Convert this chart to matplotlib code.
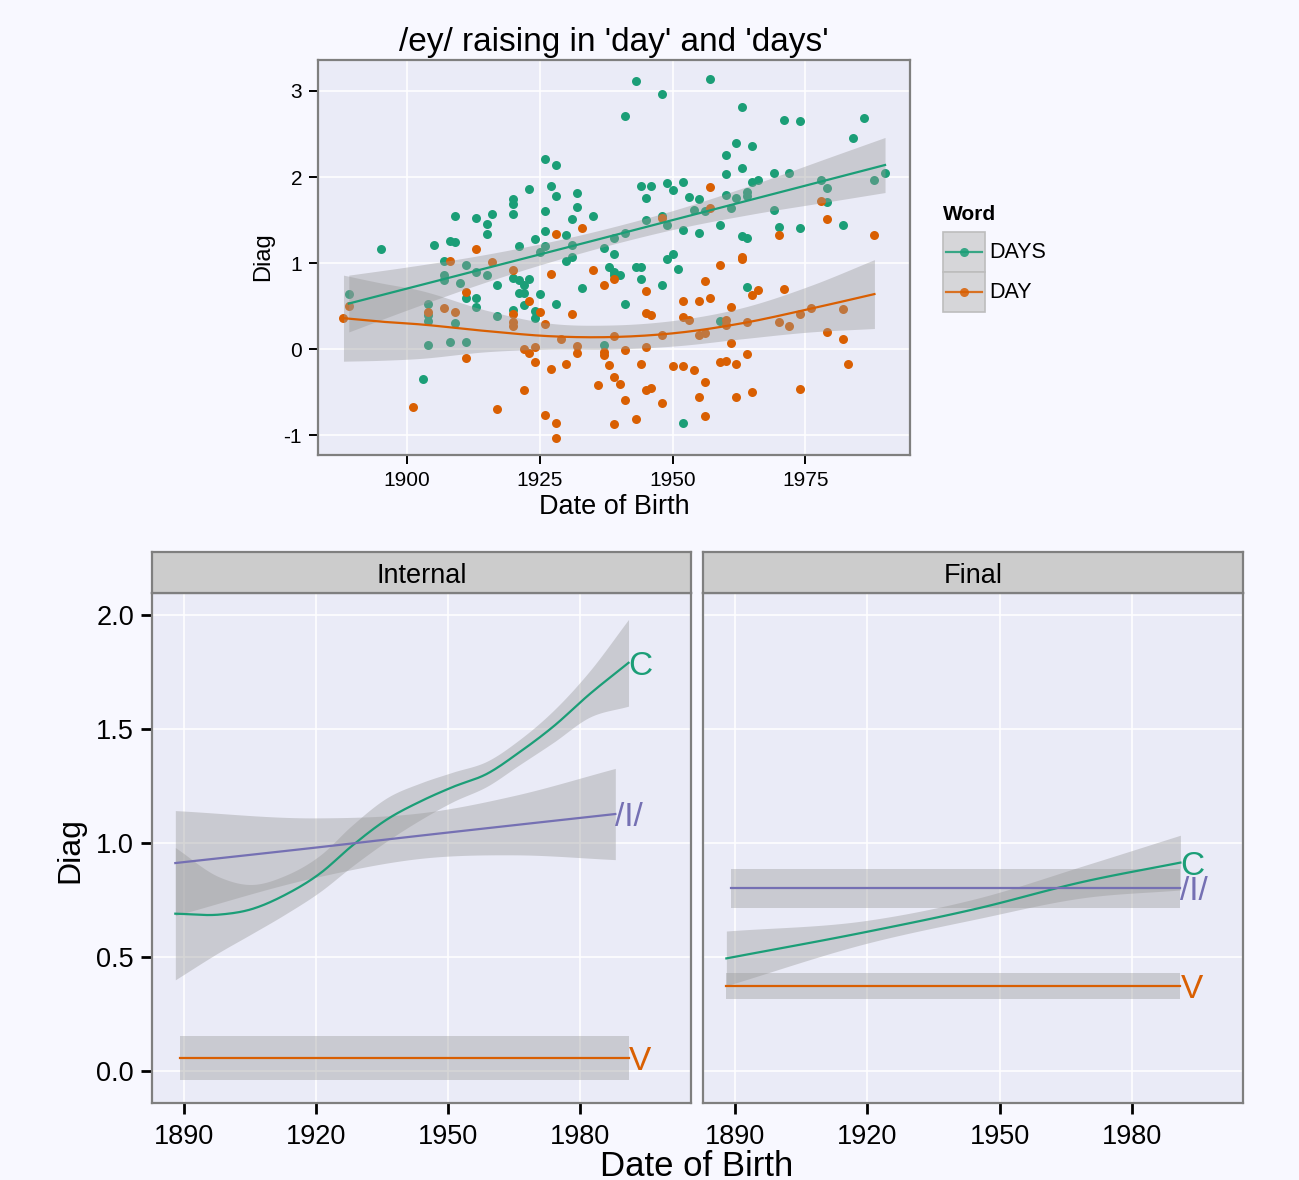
import numpy as np
import matplotlib
matplotlib.use("Agg")
import matplotlib.pyplot as plt
from matplotlib.patches import Rectangle
from matplotlib.lines import Line2D
from matplotlib.ticker import FormatStrFormatter

plt.rcParams["font.family"] = ["Liberation Sans", "DejaVu Sans"]
plt.rcParams["axes.unicode_minus"] = False

GREEN = "#1B9E77"
ORANGE = "#D95F02"
PURPLE = "#7570B3"
PANEL = "#EAEBF7"
FIG_BG = "#F8F8FF"
SPINE = "#7F7F7F"
RIBBON = "#999999"

# ---- top panel: raw points --------------------------------------------
days_year = [1895, 1926, 1928, 1923, 1927, 1928, 1932, 1932, 1920, 1920, 1920, 1926,
             1909, 1913, 1916, 1915, 1915, 1905, 1908, 1909, 1931, 1935, 1930, 1924,
             1926, 1921, 1926, 1925, 1931, 1937, 1939, 1939, 1931,
             1943, 1957, 1948, 1941, 1963, 1971, 1974, 1986, 1984, 1962, 1965, 1960,
             1960, 1963, 1969, 1972, 1990, 1988, 1965, 1966, 1944, 1946, 1949, 1950,
             1952, 1945, 1953, 1955, 1954, 1956, 1960, 1962, 1961, 1964, 1964, 1978,
             1979, 1979, 1969, 1945, 1948, 1949, 1941, 1952, 1955, 1959, 1970, 1974,
             1982, 1963, 1964, 1949, 1950,
             1907, 1911, 1913, 1915, 1907, 1907, 1910, 1917, 1889, 1911, 1913, 1913,
             1904, 1904, 1904, 1917, 1909, 1904, 1908, 1911, 1903, 1920, 1921, 1922,
             1923, 1921, 1922, 1922, 1925, 1928, 1920, 1924, 1924, 1930, 1933, 1937,
             1938, 1939,
             1943, 1944, 1939, 1940, 1944, 1951, 1948, 1964, 1941, 1959, 1952]
days_diag = [1.16, 2.21, 2.14, 1.86, 1.90, 1.78, 1.82, 1.65, 1.74, 1.69, 1.57, 1.60,
             1.55, 1.52, 1.57, 1.45, 1.34, 1.21, 1.26, 1.24, 1.51, 1.55, 1.33, 1.28,
             1.37, 1.20, 1.20, 1.13, 1.21, 1.17, 1.10, 1.29, 1.07,
             3.12, 3.14, 2.96, 2.71, 2.81, 2.66, 2.65, 2.69, 2.45, 2.40, 2.36, 2.26,
             2.03, 2.10, 2.05, 2.05, 2.05, 1.97, 1.94, 1.96, 1.90, 1.90, 1.93, 1.85,
             1.94, 1.76, 1.77, 1.74, 1.62, 1.60, 1.79, 1.76, 1.64, 1.83, 1.78, 1.96,
             1.87, 1.71, 1.62, 1.50, 1.55, 1.44, 1.35, 1.39, 1.35, 1.44, 1.42, 1.41,
             1.44, 1.31, 1.29, 1.05, 1.10,
             1.02, 0.98, 0.90, 0.86, 0.86, 0.80, 0.77, 0.75, 0.64, 0.59, 0.59, 0.49,
             0.52, 0.40, 0.33, 0.38, 0.30, 0.05, 0.08, 0.08, -0.35, 0.83, 0.80, 0.74,
             0.82, 0.65, 0.65, 0.51, 0.64, 0.52, 0.45, 0.44, 0.36, 1.02, 0.71, 0.05,
             0.96, 0.90,
             0.95, 0.95, 0.86, 0.86, 0.81, 0.93, 0.74, 0.72, 0.53, 0.33, -0.86]

day_year = [1913, 1928, 1933, 1957, 1957, 1948, 1978, 1979, 1970, 1988, 1963,
            1908, 1916, 1920, 1927, 1935, 1937, 1939, 1911, 1923, 1889, 1907, 1909,
            1904, 1888, 1920, 1920, 1920, 1925, 1926, 1931, 1929, 1932, 1932, 1922,
            1923, 1924, 1924, 1927, 1930, 1937, 1937, 1938, 1939, 1936, 1911, 1901,
            1917, 1922, 1926, 1928, 1928, 1939,
            1959, 1963, 1956, 1945, 1952, 1955, 1957, 1965, 1966, 1971, 1961, 1945,
            1946, 1952, 1953, 1960, 1960, 1964, 1970, 1972, 1974, 1976, 1982, 1979,
            1982, 1983, 1974, 1939, 1948, 1955, 1956, 1941, 1945, 1961, 1964, 1944,
            1950, 1952, 1954, 1959, 1960, 1962, 1940, 1945, 1946, 1956, 1965, 1941,
            1948, 1955, 1962, 1943, 1956]
day_diag = [1.16, 1.34, 1.41, 1.89, 1.64, 1.52, 1.72, 1.51, 1.33, 1.33, 1.07,
            1.02, 1.01, 0.92, 0.87, 0.92, 0.75, 0.82, 0.66, 0.56, 0.50, 0.48, 0.43,
            0.43, 0.36, 0.41, 0.32, 0.27, 0.43, 0.29, 0.41, 0.12, 0.04, -0.04, 0.00,
            -0.04, 0.02, -0.15, -0.23, -0.17, -0.03, -0.07, -0.18, -0.32, -0.42, -0.10, -0.67,
            -0.70, -0.48, -0.76, -0.86, -1.03, -0.87,
            0.98, 1.05, 0.79, 0.67, 0.56, 0.56, 0.60, 0.63, 0.69, 0.70, 0.49, 0.42,
            0.40, 0.37, 0.34, 0.34, 0.28, 0.31, 0.31, 0.27, 0.41, 0.48, 0.47, 0.20,
            0.12, -0.17, -0.46, 0.15, 0.16, 0.16, 0.19, -0.01, 0.02, 0.07, -0.06, -0.17,
            -0.19, -0.19, -0.24, -0.15, -0.14, -0.17, -0.40, -0.47, -0.45, -0.38, -0.50, -0.59,
            -0.63, -0.56, -0.56, -0.81, -0.78]

# ---- top panel: smooths (fit and half width of ribbon) ----------------
days_fit_year = [1889, 1900, 1915, 1930, 1940, 1950, 1965, 1980, 1990]
days_fit = [0.53, 0.705, 0.943, 1.18, 1.34, 1.50, 1.74, 1.98, 2.14]
days_se = [0.33, 0.25, 0.16, 0.11, 0.10, 0.11, 0.17, 0.26, 0.32]

day_fit_year = [1888, 1895, 1902, 1915, 1927, 1938, 1951, 1963, 1976, 1988]
day_fit = [0.36, 0.32, 0.29, 0.21, 0.15, 0.14, 0.19, 0.30, 0.47, 0.64]
day_se = [0.50, 0.45, 0.40, 0.24, 0.15, 0.14, 0.15, 0.18, 0.27, 0.40]

# ---- bottom panels -----------------------------------------------------
int_c_year = [1888, 1898, 1905, 1913, 1921, 1928, 1936, 1944, 1951, 1959, 1966, 1974, 1982, 1991]
int_c_fit = [0.69, 0.686, 0.708, 0.773, 0.868, 0.985, 1.102, 1.185, 1.245, 1.305, 1.395, 1.512, 1.65, 1.79]
int_c_se = [0.29, 0.165, 0.11, 0.085, 0.08, 0.09, 0.095, 0.08, 0.065, 0.055, 0.055, 0.07, 0.10, 0.19]

int_i_year = [1888, 1920, 1945, 1965, 1988]
int_i_fit = [0.912, 0.98, 1.035, 1.078, 1.127]
int_i_se = [0.23, 0.13, 0.10, 0.13, 0.20]

int_v_year = [1889, 1991]
int_v_fit = [0.057, 0.057]
int_v_se = [0.095, 0.095]

fin_c_year = [1888, 1920, 1945, 1969, 1991]
fin_c_fit = [0.494, 0.611, 0.713, 0.83, 0.914]
fin_c_se = [0.12, 0.05, 0.045, 0.07, 0.12]

fin_i_year = [1889, 1991]
fin_i_fit = [0.801, 0.801]
fin_i_se = [0.085, 0.085]

fin_v_year = [1888, 1991]
fin_v_fit = [0.373, 0.373]
fin_v_se = [0.058, 0.058]

W, H = 1299, 1180


def px_axes(x0, y0, x1, y1):
    return [x0 / W, 1 - y1 / H, (x1 - x0) / W, (y1 - y0) / H]


def hermite(x, y, n=25):
    # smooth path through the read-off points (drawing only)
    x = np.asarray(x, float)
    y = np.asarray(y, float)
    if len(x) < 3:
        return x, y
    m = np.gradient(y, x)
    xs, ys = [], []
    for i in range(len(x) - 1):
        h = x[i + 1] - x[i]
        t = np.linspace(0, 1, n, endpoint=False)
        h00 = 2 * t**3 - 3 * t**2 + 1
        h10 = t**3 - 2 * t**2 + t
        h01 = -2 * t**3 + 3 * t**2
        h11 = t**3 - t**2
        xs.append(x[i] + t * h)
        ys.append(h00 * y[i] + h10 * h * m[i] + h01 * y[i + 1] + h11 * h * m[i + 1])
    xs.append([x[-1]])
    ys.append([y[-1]])
    return np.concatenate(xs), np.concatenate(ys)


def style_panel(ax, tick_len, tick_w, label_size, pad):
    ax.set_facecolor(PANEL)
    for s in ax.spines.values():
        s.set_color(SPINE)
        s.set_linewidth(1.6)
    ax.grid(True, color="white", linewidth=1.1)
    ax.set_axisbelow(True)
    ax.tick_params(length=tick_len, width=tick_w, color="black",
                   labelsize=label_size, labelcolor="black", pad=pad)


def smooth(ax, yr, fit, se, color):
    xs, lo = hermite(yr, np.array(fit) - np.array(se))
    _, hi = hermite(yr, np.array(fit) + np.array(se))
    _, mid = hermite(yr, fit)
    ax.fill_between(xs, lo, hi, color=RIBBON, alpha=0.4, linewidth=0, zorder=3)
    ax.plot(xs, mid, color=color, linewidth=1.6, zorder=4)


fig = plt.figure(figsize=(W / 100, H / 100), dpi=100)
fig.patch.set_facecolor(FIG_BG)

# top scatter panel
ax = fig.add_axes(px_axes(318, 60, 910, 455))
style_panel(ax, 6.5, 1.4, 15, 5)
ax.scatter(days_year, days_diag, s=42, color=GREEN, linewidths=0, zorder=2)
ax.scatter(day_year, day_diag, s=42, color=ORANGE, linewidths=0, zorder=2)
smooth(ax, days_fit_year, days_fit, days_se, GREEN)
smooth(ax, day_fit_year, day_fit, day_se, ORANGE)
ax.set_xlim(1883.2, 1994.7)
ax.set_ylim(-1.23, 3.36)
ax.set_xticks([1900, 1925, 1950, 1975])
ax.set_yticks([-1, 0, 1, 2, 3])

fig.text(614 / W, 1 - 42 / H, "/ey/ raising in 'day' and 'days'",
         ha="center", va="center", fontsize=24)
fig.text(614 / W, 1 - 507 / H, "Date of Birth", ha="center", va="center", fontsize=19.5)
fig.text(263 / W, 1 - 257 / H, "Diag", ha="center", va="center", fontsize=17, rotation=90)

# legend drawn by hand
fig.text(943 / W, 1 - 214 / H, "Word", ha="left", va="center", fontsize=15, fontweight="bold")
for i, (lab, col) in enumerate([("DAYS", GREEN), ("DAY", ORANGE)]):
    top = 232 + 40 * i
    fig.add_artist(Rectangle((943 / W, 1 - (top + 40) / H), 42 / W, 40 / H,
                             transform=fig.transFigure, facecolor="#D6D6D9",
                             edgecolor="#BDBDBD", linewidth=1.2))
    yc = 1 - (top + 20) / H
    fig.add_artist(Line2D([946 / W, 982 / W], [yc, yc], transform=fig.transFigure,
                          color=col, linewidth=1.6, alpha=0.85))
    fig.add_artist(Line2D([964 / W], [yc], transform=fig.transFigure, marker="o",
                          markersize=6.5, color=col, markeredgewidth=0, alpha=0.85))
    fig.text(989 / W, yc, lab, ha="left", va="center", fontsize=15.5)

# bottom facets
facets = [
    ("Internal", 152, 691,
     [(int_c_year, int_c_fit, int_c_se, GREEN, "C"),
      (int_i_year, int_i_fit, int_i_se, PURPLE, "/I/"),
      (int_v_year, int_v_fit, int_v_se, ORANGE, "V")]),
    ("Final", 703, 1243,
     [(fin_c_year, fin_c_fit, fin_c_se, GREEN, "C"),
      (fin_i_year, fin_i_fit, fin_i_se, PURPLE, "/I/"),
      (fin_v_year, fin_v_fit, fin_v_se, ORANGE, "V")]),
]

for k, (name, x0, x1, groups) in enumerate(facets):
    ax = fig.add_axes(px_axes(x0, 593, x1, 1103))
    style_panel(ax, 8, 2.0, 19.5, 7)
    for yr, fit, se, col, lab in groups:
        smooth(ax, yr, fit, se, col)
        ax.text(yr[-1], fit[-1], lab, color=col, fontsize=24,
                ha="left", va="center_baseline", zorder=5)
    ax.set_xlim(1882.7, 2005.2)
    ax.set_ylim(-0.14, 2.096)
    ax.set_xticks([1890, 1920, 1950, 1980])
    ax.set_yticks([0.0, 0.5, 1.0, 1.5, 2.0])
    ax.yaxis.set_major_formatter(FormatStrFormatter("%.1f"))
    ax.tick_params(axis="y", pad=5)
    if k == 1:
        ax.tick_params(left=False, labelleft=False)

    strip = fig.add_axes(px_axes(x0, 552, x1, 593))
    strip.set_facecolor("#CCCCCC")
    strip.set_xticks([])
    strip.set_yticks([])
    for s in strip.spines.values():
        s.set_color(SPINE)
        s.set_linewidth(1.6)
    strip.text(0.5, 0.42, name, ha="center", va="center", fontsize=19.5,
               transform=strip.transAxes)

fig.text(697 / W, 1 - 1166 / H, "Date of Birth", ha="center", va="center", fontsize=25)
fig.text(70 / W, 1 - 850 / H, "Diag", ha="center", va="center", fontsize=23, rotation=90)

fig.savefig("out.png", dpi=100, facecolor=FIG_BG)
